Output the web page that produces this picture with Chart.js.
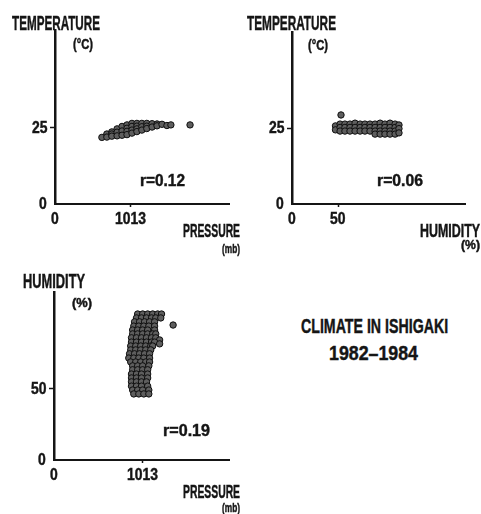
<!DOCTYPE html>
<html>
<head>
<meta charset="utf-8">
<script src="https://cdn.jsdelivr.net/npm/chart.js@4.4.1/dist/chart.umd.min.js"></script>
<style>
  body { margin: 0; background: #fff; }
  #page { position: relative; width: 481px; height: 514px; overflow: hidden; background: #fff; }
  canvas { position: absolute; }
  .lbl {
    position: absolute; white-space: nowrap; line-height: 1; color: #151515;
    font-family: "Liberation Sans Narrow", "Liberation Sans", sans-serif;
    font-weight: bold; transform-origin: 0 0;
    -webkit-text-stroke: 0.45px #151515;
  }
</style>
</head>
<body>
<div id="page">
  <canvas id="tempPressure" width="240" height="250" style="left:0;top:0;width:240px;height:250px"></canvas>
  <canvas id="tempHumidity" width="241" height="250" style="left:240px;top:0;width:241px;height:250px"></canvas>
  <canvas id="humPressure" width="240" height="254" style="left:0;top:260px;width:240px;height:254px"></canvas>
</div>
<script>
// --- data (Ishigaki 1982-1984) ---
// axes start at a broken origin marked "0"
const pressureTicks = [1013];
const tempTicks = [25];
const humidityTicks = [50];

// temperature vs pressure: cloud by columns (mb -> degC)
const pressure1 = [1004.2, 1005.7, 1007.2, 1008.8, 1010.3, 1011.8, 1013.3, 1014.8, 1016.3, 1017.8, 1019.4, 1020.9, 1022.4, 1023.9, 1025.1, 1030.9];
const temp1 = [
  [21.9], [23.0, 22.0], [23.7, 23.0, 22.3], [24.7, 23.6, 22.4], [25.5, 24.0, 22.6],
  [26.0, 24.9, 23.9, 22.8], [26.5, 25.5, 24.3, 23.3], [26.5, 25.6, 24.7, 23.8], [26.5, 25.4, 24.3],
  [26.5, 25.6, 24.8], [26.4, 25.3], [26.3, 25.7], [26.2], [25.8], [26.0], [26.0]
];

// temperature vs humidity: cloud by columns (% -> degC)
const humidity2 = [48.9, 50.9, 53.0, 55.2, 57.4, 59.6, 61.7, 63.9, 66.1, 68.3, 70.4, 72.6, 74.8, 76.5, 51.3];
const temp2 = [
  [25.7, 24.4], [26.3, 25.2, 24.0], [26.3, 25.2, 24.0], [26.3, 25.2, 24.0], [26.6, 25.2, 24.0],
  [26.3, 25.2, 24.0], [26.3, 25.2, 24.0], [26.3, 25.2, 24.0], [26.3, 25.2, 24.0, 23.0],
  [26.6, 25.2, 24.0, 23.0], [26.3, 25.2, 24.0, 23.0], [26.6, 25.2, 24.0, 23.0], [26.3, 25.2, 24.0, 23.0],
  [26.0, 24.8, 23.4], [29.3]
];

// humidity vs pressure: cloud by rows (% -> mb)
const humidity3 = [71.1, 70.0, 68.9, 68.0, 67.7, 66.6, 65.5, 64.4, 63.8, 63.2, 62.7, 62.1, 61.0, 59.9, 58.7, 57.6, 56.5, 55.4, 54.2, 53.1, 52.0, 50.8, 49.7, 48.6];
const pressure3 = [
  [1011.7, 1013.0, 1014.3, 1015.6, 1016.9, 1017.9],
  [1011.4, 1012.7, 1014.0, 1015.3, 1016.4, 1017.7],
  [1010.9, 1012.2, 1013.5, 1014.8, 1016.1],
  [1020.9],
  [1010.7, 1012.0, 1013.3, 1014.6, 1016.1],
  [1010.4, 1011.7, 1013.0, 1014.3, 1016.1],
  [1010.4, 1011.7, 1013.0, 1014.3, 1015.6, 1016.4],
  [1010.1, 1011.4, 1012.7, 1014.0, 1015.3, 1016.4],
  [1017.4],
  [1010.1, 1011.4, 1012.7, 1014.0, 1015.3, 1016.1],
  [1017.4],
  [1009.9, 1011.2, 1012.5, 1013.8, 1015.1, 1015.6],
  [1009.9, 1011.2, 1012.5, 1013.8, 1015.1],
  [1009.6, 1010.9, 1012.2, 1013.5, 1014.8],
  [1009.4, 1010.7, 1012.0, 1013.3, 1014.8],
  [1009.9, 1011.2, 1012.5, 1013.8, 1014.8],
  [1010.4, 1011.7, 1013.0, 1014.6],
  [1010.4, 1011.7, 1013.0, 1014.3],
  [1010.1, 1011.4, 1012.7, 1014.3],
  [1010.1, 1011.4, 1012.7, 1014.3],
  [1010.1, 1011.4, 1012.7, 1014.0],
  [1010.1, 1011.4, 1012.7, 1014.3],
  [1010.4, 1011.7, 1013.0, 1014.6],
  [1010.7, 1012.0, 1013.3, 1014.6]
];

const ink = '#151515';
const page = document.getElementById('page');

function columnsToPoints(xs, yCols) {
  const pts = [];
  xs.forEach((x, i) => yCols[i].forEach((y) => pts.push({ x, y })));
  return pts;
}

function rowsToPoints(ys, xRows) {
  const pts = [];
  ys.forEach((y, i) => xRows[i].forEach((x) => pts.push({ x, y })));
  return pts;
}

// condensed bold text: glyph height h, squeezed horizontally by factor sx
function addText(text, h, sx) {
  const el = document.createElement('div');
  el.className = 'lbl';
  el.textContent = text;
  const fs = h / 0.72;
  el.style.fontSize = fs.toFixed(1) + 'px';
  page.appendChild(el);
  const w = el.getBoundingClientRect().width;
  el.style.transform = 'scaleX(' + sx.toFixed(3) + ')';
  return { el, fs, w: w * sx };
}

function placeText(t, left, glyphTop) {
  t.el.style.left = left.toFixed(1) + 'px';
  t.el.style.top = (glyphTop - 0.13 * t.fs).toFixed(1) + 'px';
}

// squeeze factor so tick digits come out ~7.7px wide at 12px high
const probe = addText('1013', 12, 1);
const tickSqueeze = 31 / probe.w;
probe.el.remove();

// tick labels as page text, positioned from the chart's own scales
const domTicks = {
  id: 'domTicks',
  afterRender(chart) {
    if (chart.$ticksDone) return;
    chart.$ticksDone = true;
    const ox = chart.canvas.offsetLeft;
    const oy = chart.canvas.offsetTop;
    const xs = chart.scales.x;
    xs.ticks.forEach((tk) => {
      const t = addText(tk.label, 12, tickSqueeze);
      placeText(t, ox + xs.getPixelForValue(tk.value) - t.w / 2, oy + xs.top + 9);
    });
    const ys = chart.scales.y;
    ys.ticks.forEach((tk) => {
      const t = addText(tk.label, 12, tickSqueeze);
      placeText(t, ox + ys.right - 8 - t.w, oy + ys.getPixelForValue(tk.value) - 6);
    });
  }
};

function makeAxis(min, max, tickValues, isX, size) {
  return {
    type: 'linear',
    min: min,
    max: max,
    afterBuildTicks: (scale) => { scale.ticks = [min].concat(tickValues).map((v) => ({ value: v })); },
    afterFit: (scale) => { if (isX) scale.height = size; else scale.width = size; },
    grid: {
      drawOnChartArea: false,
      drawTicks: true,
      tickLength: isX ? 3 : 5,
      tickWidth: 1.5,
      tickColor: (ctx) => (ctx.tick && ctx.tick.value === min ? 'rgba(0,0,0,0)' : ink)
    },
    border: { display: true, color: ink, width: isX ? 2 : 2.5 },
    ticks: {
      display: false,
      autoSkip: false,
      callback: (v) => (v === min ? '0' : String(v))
    }
  };
}

function makeScatter(id, points, xAxis, yAxis, padding) {
  return new Chart(document.getElementById(id), {
    type: 'scatter',
    data: {
      datasets: [{
        data: points,
        pointRadius: 3.2,
        pointBorderWidth: 1,
        backgroundColor: '#5e5e5e',
        borderColor: '#0e0e0e'
      }]
    },
    options: {
      responsive: false,
      animation: false,
      devicePixelRatio: 1,
      layout: { padding: padding },
      plugins: { legend: { display: false }, tooltip: { enabled: false } },
      scales: { x: xAxis, y: yAxis }
    },
    plugins: [domTicks]
  });
}

makeScatter('tempPressure', columnsToPoints(pressure1, temp1),
  makeAxis(990, 1042.7, pressureTicks, true, 46),
  makeAxis(0, 57.2, tempTicks, false, 55),
  { top: 30, right: 11, left: 0, bottom: 0 });

makeScatter('tempHumidity', columnsToPoints(humidity2, temp2),
  makeAxis(30, 105.2, humidityTicks, true, 46),
  makeAxis(0, 56.6, tempTicks, false, 52),
  { top: 32, right: 16, left: 0, bottom: 0 });

makeScatter('humPressure', rowsToPoints(humidity3, pressure3),
  makeAxis(990, 1035.4, pressureTicks, true, 54),
  makeAxis(30, 77.3, humidityTicks, false, 54),
  { top: 32, right: 11, left: 0, bottom: 0 });

// --- titles and notes: [text, left, glyph top, glyph height, width] ---
const labels = [
  ['TEMPERATURE', 12, 16, 14, 88],
  ['(°C)', 73, 40, 10, 20],
  ['r=0.12', 140, 175, 12, 45],
  ['PRESSURE', 183, 224, 13, 57],
  ['(mb)', 222, 245, 9, 18],
  ['TEMPERATURE', 247, 16, 14, 89],
  ['(°C)', 308, 41, 10, 20],
  ['r=0.06', 377, 175, 12, 46],
  ['HUMIDITY', 420, 224, 13, 60],
  ['(%)', 461, 241, 9, 19],
  ['HUMIDITY', 23, 274, 14, 62],
  ['(%)', 72, 299, 9, 20],
  ['r=0.19', 163, 425, 12, 47],
  ['PRESSURE', 183, 485, 13, 57],
  ['(mb)', 222, 504, 9, 18],
  ['CLIMATE IN ISHIGAKI', 301, 319, 15, 147],
  ['1982\u20131984', 329, 346, 15, 89]
];

labels.forEach(([text, left, top, h, w]) => {
  const natural = addText(text, h, 1);
  natural.el.remove();
  const t = addText(text, h, w / natural.w);
  placeText(t, left, top);
});
</script>
</body>
</html>
